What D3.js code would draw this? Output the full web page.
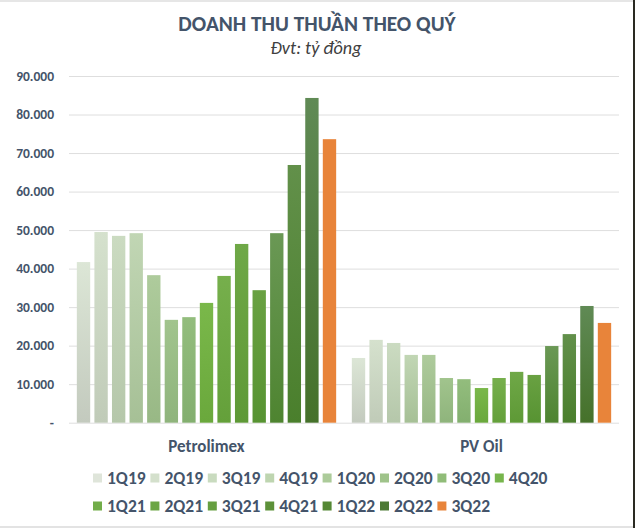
<!DOCTYPE html>
<html><head><meta charset="utf-8">
<script src="https://cdn.jsdelivr.net/npm/d3@7/dist/d3.min.js"></script>
<style>body{margin:0;background:#fff;}svg{display:block;font-family:Calibri,Carlito,"Open Sans","Noto Sans",sans-serif;}</style>
</head><body><svg id="c" width="635" height="528"></svg>
<script>
const companies = ["Petrolimex", "PV Oil"];
const quarters = ["1Q19","2Q19","3Q19","4Q19","1Q20","2Q20","3Q20","4Q20","1Q21","2Q21","3Q21","4Q21","1Q22","2Q22","3Q22"];
const petrolimex = [41700, 49500, 48500, 49200, 38300, 26700, 27400, 31100, 38100, 46400, 34400, 49200, 66900, 84300, 73600];
const pvoil = [16800, 21500, 20700, 17600, 17600, 11600, 11300, 9000, 11600, 13200, 12400, 19900, 23000, 30300, 25900];
const yTicks = [0, 10000, 20000, 30000, 40000, 50000, 60000, 70000, 80000, 90000];
const colorsTop = ["#dce6d6","#d5e1cd","#cbdbc1","#c1d6b4","#aecb9c","#a1c48d","#93bd7d","#7ab84a","#76af4c","#6fa847","#69a142","#6a9855","#62904a","#608a55","#e8843a"];
const colorsBot = ["#c3cabe","#c0cbb8","#b5c7aa","#a6c096","#98b885","#8fb47c","#83af6f","#6aa83c","#64a03a","#5e9936","#579332","#4e8430","#4a7f2c","#45712a","#e8843a"];
const legendColors = ["#dfe5da","#d4e0cc","#c9dbbf","#bed5b0","#accb9a","#9fc38a","#90bc78","#77b54c","#72ad49","#6ca645","#669f40","#5d9139","#558834","#4d7a35","#e8843a"];

const values = [petrolimex, pvoil];
const svg = d3.select("#c");

// border artifacts
svg.append("rect").attr("x",0).attr("y",0).attr("width",635).attr("height",2).attr("fill","#e6e6e6");
svg.append("rect").attr("x",0).attr("y",526).attr("width",635).attr("height",2).attr("fill","#e3e3e3");
svg.append("rect").attr("x",633).attr("y",0).attr("width",2).attr("height",528).attr("fill","#2a2a22");

const defs = svg.append("defs");
quarters.forEach((q,i)=>{
  const g = defs.append("linearGradient").attr("id","g"+i).attr("x1",0).attr("y1",0).attr("x2",0).attr("y2",1);
  g.append("stop").attr("offset","0%").attr("stop-color",colorsTop[i]);
  g.append("stop").attr("offset","100%").attr("stop-color",colorsBot[i]);
});

const y = d3.scaleLinear().domain([0,90000]).range([422.7, 76]);
const x0 = d3.scaleBand().domain(companies).range([69,619]).paddingInner(0.057).paddingOuter(0.0285);
const x1 = d3.scaleBand().domain(quarters).range([0, x0.bandwidth()]).paddingInner(0.24).paddingOuter(0);

// title
svg.append("text").attr("x",317).attr("y",31).attr("text-anchor","middle")
  .attr("font-size",21.3).attr("font-weight","bold").attr("fill","#44546a").text("DOANH THU THUẦN THEO QUÝ");
svg.append("text").attr("x",316).attr("y",54).attr("text-anchor","middle")
  .attr("font-size",18.2).attr("font-style","italic").attr("fill","#404040").text("Đvt: tỷ đồng");

// grid
const fmt = v => v === 0 ? "-" : d3.format(",")(v).replace(/,/g,".");
const yAxis = svg.append("g").attr("transform","translate(69,0)")
  .call(d3.axisLeft(y).tickValues(yTicks).tickSize(-550).tickFormat(fmt).tickPadding(15));
yAxis.select(".domain").remove();
yAxis.selectAll(".tick line").attr("stroke","#dedede").attr("stroke-width",1);
yAxis.selectAll(".tick text").attr("font-size",13.5).attr("font-weight","bold").attr("fill","#44546a").attr("font-family","Calibri,Carlito,'Open Sans',sans-serif");

// bars
companies.forEach((c,ci)=>{
  const g = svg.append("g").attr("transform",`translate(${x0(c)},0)`);
  g.selectAll("rect").data(values[ci]).join("rect")
    .attr("x",(d,i)=>x1(quarters[i]))
    .attr("y",d=>y(d))
    .attr("width",x1.bandwidth())
    .attr("height",d=>y(0)-y(d))
    .attr("fill",(d,i)=>`url(#g${i})`);
  svg.append("text").attr("x",x0(c)+x0.bandwidth()/2).attr("y",452).attr("text-anchor","middle")
    .attr("font-size",17).attr("font-weight","bold").attr("fill","#44546a").text(c);
});

// legend
const leg = svg.append("g");
quarters.forEach((q,i)=>{
  const row = i < 8 ? 0 : 1;
  const col = i < 8 ? i : i-8;
  const lx = 93 + col*57.4, ly = row ? 506 : 478;
  leg.append("rect").attr("x",lx).attr("y",ly-4.5).attr("width",9).attr("height",9).attr("fill",legendColors[i]);
  leg.append("text").attr("x",lx+14).attr("y",ly+6).attr("font-size",17.5).attr("font-weight","bold")
    .attr("fill","#44546a").text(q);
});
</script></body></html>
